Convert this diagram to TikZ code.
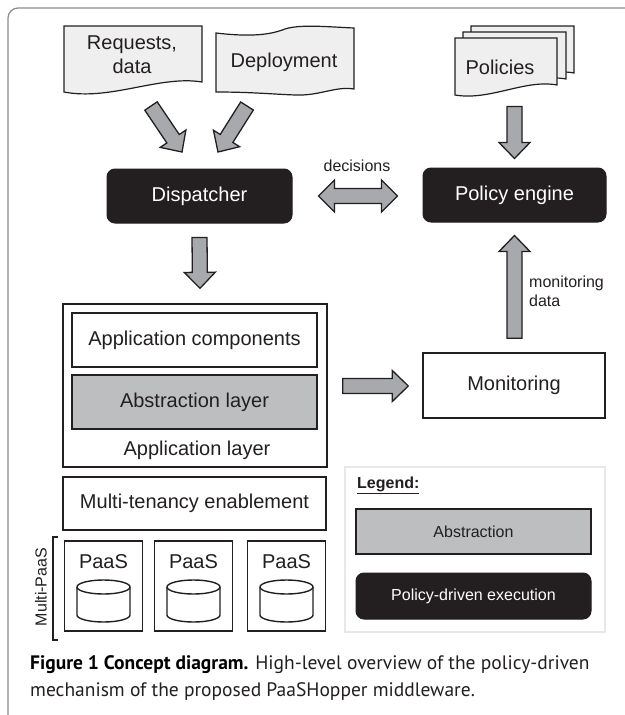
\documentclass[tikz,border=0pt]{standalone}
\usepackage{fontspec}
\setmainfont{Liberation Sans}
\newfontfamily\capfont{PT Sans}
\usetikzlibrary{calc}

\definecolor{ink}{HTML}{231F20}
\definecolor{docfill}{HTML}{EFEFEF}
\definecolor{arrowfill}{HTML}{A7A9AC}
\definecolor{absfill}{HTML}{BCBEC0}
\definecolor{framegray}{HTML}{8C8C8C}
\definecolor{legendline}{HTML}{E8E8E8}

\tikzset{
  every node/.style={text=ink, inner sep=0pt},
  box/.style={draw=ink, line width=1.4pt, fill=white},
  absbox/.style={box, fill=absfill},
  blackbox/.style={draw=ink, fill=ink, rounded corners=8pt, line width=1pt, text=white},
  doc/.style={draw=ink, line width=1.2pt, fill=docfill},
  blockarr/.style={draw=ink, line width=1.3pt, fill=arrowfill, line join=miter},
  lbl/.style={font=\fontsize{20}{24}\selectfont},
  small/.style={font=\fontsize{16}{19}\selectfont},
  captext/.style={font=\capfont\fontsize{19.5}{24}\selectfont},
}

% single block arrow from tail #1 to tip #2
\newcommand\blockarrow[2]{%
  \path[blockarr] let \p1=(#1), \p2=(#2),
      \n1={atan2(\y2-\y1,\x2-\x1)},
      \n2={veclen(\x2-\x1,\y2-\y1)-16pt}
    in ($(\p1)+(\n1+90:7.5pt)$)
    -- ($(\p1)+(\n1:\n2)+(\n1+90:7.5pt)$)
    -- ($(\p1)+(\n1:\n2)+(\n1+90:15.5pt)$)
    -- (\p2)
    -- ($(\p1)+(\n1:\n2)+(\n1-90:15.5pt)$)
    -- ($(\p1)+(\n1:\n2)+(\n1-90:7.5pt)$)
    -- ($(\p1)+(\n1-90:7.5pt)$) -- cycle;}

% double-headed block arrow between #1 and #2
\newcommand\dblockarrow[2]{%
  \path[blockarr] let \p1=(#1), \p2=(#2),
      \n1={atan2(\y2-\y1,\x2-\x1)},
      \n2={veclen(\x2-\x1,\y2-\y1)-16pt}
    in (\p1)
    -- ($(\p1)+(\n1:16pt)+(\n1+90:16pt)$)
    -- ($(\p1)+(\n1:16pt)+(\n1+90:7.5pt)$)
    -- ($(\p1)+(\n1:\n2)+(\n1+90:7.5pt)$)
    -- ($(\p1)+(\n1:\n2)+(\n1+90:16pt)$)
    -- (\p2)
    -- ($(\p1)+(\n1:\n2)+(\n1-90:16pt)$)
    -- ($(\p1)+(\n1:\n2)+(\n1-90:7.5pt)$)
    -- ($(\p1)+(\n1:16pt)+(\n1-90:7.5pt)$)
    -- ($(\p1)+(\n1:16pt)+(\n1-90:16pt)$) -- cycle;}

\begin{document}
\begin{tikzpicture}[x=1pt, y=-1pt]
\useasboundingbox (0,0) rectangle (624,715);

% outer frame
\draw[framegray, line width=1.2pt, rounded corners=10pt] (8,716) -- (8,8) -- (626,8);

% ---- inputs: documents ----
\draw[doc] (64,26) -- (202,26) -- (202,82) .. controls (160,75) and (110,101) .. (64,92) -- cycle;
\node[lbl, align=center] (req) at (132,55) {Requests,\\data};

\draw[doc] (216,33) .. controls (250,37) and (270,35) .. (285,29)
  .. controls (300,24) and (330,27) .. (354,28) -- (354,89)
  .. controls (335,86) and (320,96) .. (295,95)
  .. controls (270,94) and (250,92) .. (216,92) -- cycle;
\node[lbl] (dep) at (284,62) {Deployment};

\draw[doc] (471,26) -- (574,26) -- (574,73) .. controls (542,67) and (507,89) .. (471,83) -- cycle;
\draw[doc] (463,32) -- (566,32) -- (566,79) .. controls (534,73) and (499,95) .. (463,89) -- cycle;
\draw[doc] (455,38) -- (557,38) -- (557,85) .. controls (525,79) and (490,101) .. (455,95) -- cycle;
\node[lbl] (pol) at (500,67) {Policies};

% ---- execution blocks ----
\node[blackbox, lbl, minimum width=185pt, minimum height=54pt] (disp) at (199.5,196) {Dispatcher};
\node[blackbox, lbl, minimum width=183pt, minimum height=54pt] (eng) at (514.5,195) {Policy engine};
\node[small] (dec) at (357,166) {decisions};

% ---- application stack ----
\node[box, minimum width=264pt, minimum height=163pt] (app) at (195,385.5) {};
\node[box, lbl, minimum width=245pt, minimum height=54pt] (comp) at (194.5,340) {Application components};
\node[absbox, lbl, minimum width=245pt, minimum height=54pt] (abs) at (194.5,402) {Abstraction layer};
\node[lbl] (applbl) at (197,450) {Application layer};

\node[box, lbl, minimum width=182pt, minimum height=65pt] (mon) at (514,385.5) {Monitoring};
\node[small, align=left, anchor=west] (mdata) at (529,291) {monitoring\\data};

\node[box, lbl, minimum width=263pt, minimum height=53pt] (mt) at (194.5,503.5) {Multi-tenancy enablement};

% ---- PaaS providers ----
\foreach \cx/\nm in {103.5/p1, 193.5/p2, 286.5/p3}{
  \node[box, minimum width=78pt, minimum height=90pt] (\nm) at (\cx,586) {};
  \node[lbl] (\nm lbl) at (\cx,562) {PaaS};
  \draw[box] (\cx-26.5,587) -- (\cx-26.5,615)
    arc[start angle=180, end angle=360, x radius=26.5pt, y radius=7pt] -- (\cx+26.5,587);
  \draw[box] (\cx,587) ellipse[x radius=26.5pt, y radius=7pt];
}
\draw[ink, line width=1.2pt] (58,537) -- (53,537) -- (53,640) -- (58,640);
\node[small, rotate=90] (mpaas) at (41,587) {Multi-PaaS};

% ---- legend ----
\node[draw=legendline, line width=2pt, fill=white, minimum width=260pt, minimum height=165pt] (leg) at (475,549.5) {};
\node[small, anchor=west, font=\fontsize{16}{19}\selectfont\bfseries] (legt) at (357,485) {\underline{Legend:}};
\node[absbox, line width=1.3pt, small, minimum width=235pt, minimum height=45pt] (legabs) at (473.5,531.5) {Abstraction};
\node[blackbox, small, minimum width=235pt, minimum height=46pt] (legpol) at (473.5,596) {Policy-driven execution};

% ---- block arrows ----
\coordinate (reqT) at (151,106);
\coordinate (reqH) at (182,152);
\coordinate (depT) at (247,106);
\coordinate (depH) at (218,152);
\coordinate (polT) at ($(eng.north)+(0,-61)$);
\coordinate (polH) at ($(eng.north)+(0,-9)$);
\coordinate (decL) at ($(disp.east)+(26,0)$);
\coordinate (decR) at ($(eng.west)+(-25,1)$);
\coordinate (dispT) at ($(disp.south)+(0,14)$);
\coordinate (dispH) at ($(app.north)+(5,-15)$);
\coordinate (monT) at ($(app.east)+(15,0.5)$);
\coordinate (monH) at ($(mon.west)+(-14,0.5)$);
\coordinate (mdT) at ($(mon.north)+(0.5,-14)$);
\coordinate (mdH) at ($(eng.south)+(0,13)$);

\blockarrow{reqT}{reqH}
\blockarrow{depT}{depH}
\blockarrow{polT}{polH}
\dblockarrow{decL}{decR}
\blockarrow{dispT}{dispH}
\blockarrow{monT}{monH}
\blockarrow{mdT}{mdH}

% ---- caption ----
\node[captext, anchor=base west] (cap1) at (30,669) {\textbf{\color{black}Figure 1 Concept diagram.} High-level overview of the policy-driven};
\node[captext, anchor=base west] (cap2) at (30,696) {mechanism of the proposed PaaSHopper middleware.};
\end{tikzpicture}
\end{document}
